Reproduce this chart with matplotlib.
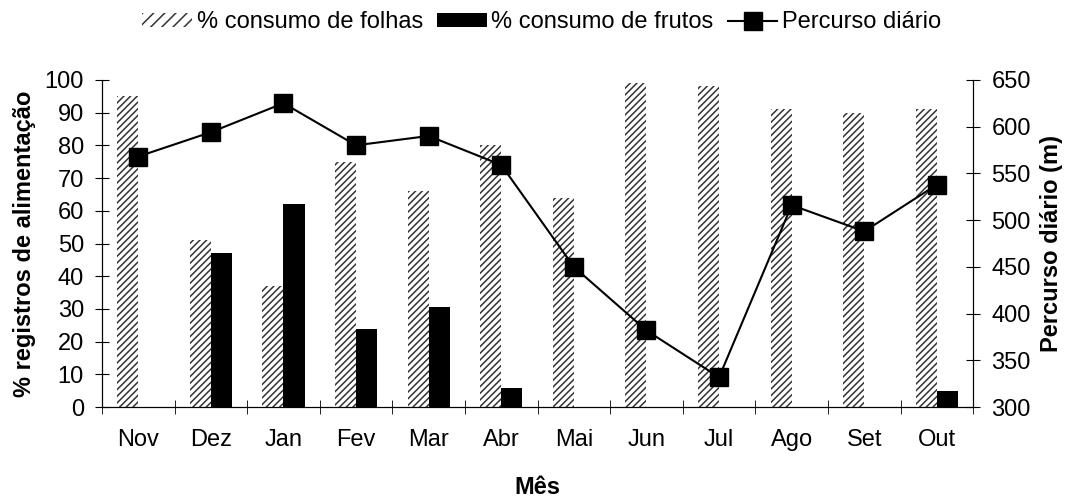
import numpy as np
import matplotlib
matplotlib.use("Agg")
import matplotlib.pyplot as plt
from matplotlib.patches import Patch
from matplotlib.lines import Line2D

plt.rcParams['font.family'] = ['Liberation Sans', 'DejaVu Sans']
plt.rcParams['hatch.linewidth'] = 1.1

meses = ["Nov", "Dez", "Jan", "Fev", "Mar", "Abr", "Mai", "Jun", "Jul", "Ago", "Set", "Out"]
folhas = [95, 51, 37, 75, 66, 80, 64, 99, 98, 91, 90, 91]
frutos = [0, 47, 62, 24, 30.5, 6, 0, 0, 0, 0, 0, 5]
percurso = [568, 594, 625, 580, 590, 559, 450, 382, 332, 516, 488, 538]

fs = 17
fig = plt.figure(figsize=(10.73, 4.99), dpi=100)
ax = fig.add_axes([0.095, 0.184, 0.812, 0.656])
ax2 = ax.twinx()

x = np.arange(len(meses))
w = 0.29
ax.bar(x - w / 2, folhas, w, facecolor='white', edgecolor='#333333', hatch='/////', linewidth=0)
ax.bar(x + w / 2, frutos, w, color='black', linewidth=0)
ax2.plot(x, percurso, color='black', lw=1.5, marker='s', markersize=13)

ax.set_xlim(-0.5, len(meses) - 0.5)
ax.set_ylim(0, 100)
ax.set_yticks(range(0, 101, 10))
ax2.set_ylim(300, 650)
ax2.set_yticks(range(300, 651, 50))

ax.set_xticks(x)
ax.set_xticklabels(meses)
ax.set_xticks(np.arange(-0.5, len(meses), 1), minor=True)
ax.tick_params(axis='x', which='major', length=0, pad=16, labelsize=fs)
ax.tick_params(axis='x', which='minor', direction='inout', length=10)
ax.tick_params(axis='y', direction='inout', length=10, labelsize=fs, pad=8)
ax2.tick_params(axis='y', direction='inout', length=10, labelsize=fs, pad=8)

for a in (ax, ax2):
    a.spines['top'].set_visible(False)

ax.set_xlabel('Mês', fontsize=fs, fontweight='bold', labelpad=18)
ax.set_ylabel('% registros de alimentação', fontsize=fs, fontweight='bold', labelpad=6)
ax2.set_ylabel('Percurso diário (m)', fontsize=fs, fontweight='bold', labelpad=7)

handles = [
    Patch(facecolor='white', edgecolor='#333333', hatch='///', linewidth=0),
    Patch(facecolor='black'),
    Line2D([0], [0], color='black', lw=1.5, marker='s', markersize=13),
]
labels = ['% consumo de folhas', '% consumo de frutos', 'Percurso diário']
fig.legend(handles, labels, loc='upper center', bbox_to_anchor=(0.505, 1.02), ncol=3,
           frameon=False, fontsize=fs, handlelength=2.1, handleheight=0.55,
           handletextpad=0.2, columnspacing=0.6)

plt.savefig("out.png")
